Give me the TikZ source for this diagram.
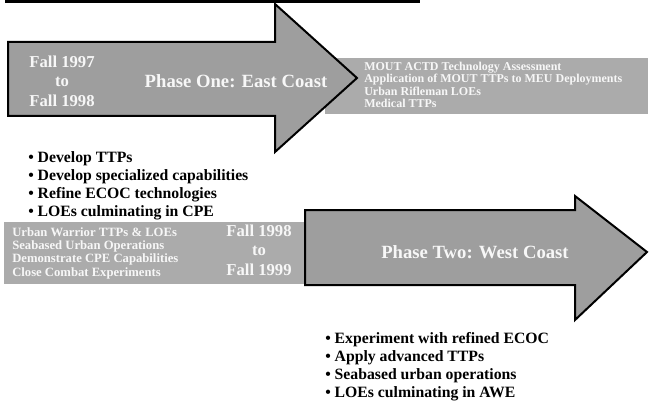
\documentclass[tikz,border=0pt]{standalone}
\usepackage{fontspec}
\setmainfont{Liberation Serif}
\usepackage{xcolor}
\definecolor{Stipple}{gray}{0.62}
\definecolor{Band}{gray}{0.67}
\definecolor{Faint}{gray}{0.97}
\usetikzlibrary{positioning}
\tikzset{
  phase/.style={draw=black,line width=1.5pt,fill=Stipple,line join=miter},
  band/.style={fill=Band},
  phasetitle/.style={font=\bfseries\fontsize{14}{16}\selectfont,text=Faint,inner sep=0pt},
  dates/.style={font=\bfseries\fontsize{12.5}{14.5}\selectfont,text=Faint,align=center,inner sep=0pt},
  bandtext/.style={font=\bfseries\fontsize{9}{9.4}\selectfont,text=Faint,align=left,inner sep=0pt,anchor=west},
  bullets/.style={font=\bfseries\fontsize{11.8}{13.5}\selectfont,align=left,inner sep=0pt,anchor=north west}
}

\begin{document}
\begin{tikzpicture}[x=0.75pt,y=-0.75pt]
  \useasboundingbox (0,0) rectangle (652,406);
  \fill (5,0) rectangle (420,3);
  % phase one
  \fill[band] (325,58) rectangle (648,114);
  \draw[phase] (8,42) -- (275,42) -- (275,4) -- (357,78) -- (275,152) -- (275,116) -- (8,116) -- cycle;
  \node[dates] (oneFrom) at (62,81) {Fall 1997\\to\\Fall 1998};
  \node[phasetitle] (oneTitle) at (236,81) {Phase One: East Coast};
  \node[bandtext] (oneBand) at (364,85) {MOUT ACTD Technology Assessment\\Application of MOUT TTPs to MEU Deployments\\Urban Rifleman LOEs\\Medical TTPs};
  \node[bullets] (oneList) at (28,151) {\textbullet\ Develop TTPs\\\textbullet\ Develop specialized capabilities\\\textbullet\ Refine ECOC technologies\\\textbullet\ LOEs culminating in CPE};
  % phase two
  \fill[band] (4,222) rectangle (306,284);
  \draw[phase] (305,210) -- (575,210) -- (575,196) -- (647,252) -- (575,320) -- (575,285) -- (305,285) -- cycle;
  \node[bandtext, font=\bfseries\fontsize{9.5}{10}\selectfont] (twoBand) at (12,253) {Urban Warrior TTPs \& LOEs\\Seabased Urban Operations\\Demonstrate CPE Capabilities\\Close Combat Experiments};
  \node[dates] (twoFrom) at (259,250) {Fall 1998\\to\\Fall 1999};
  \node[phasetitle] (twoTitle) at (475,252) {Phase Two: West Coast};
  \node[bullets] (twoList) at (325,332) {\textbullet\ Experiment with refined ECOC\\\textbullet\ Apply advanced TTPs\\\textbullet\ Seabased urban operations\\\textbullet\ LOEs culminating in AWE};
\end{tikzpicture}
\end{document}
